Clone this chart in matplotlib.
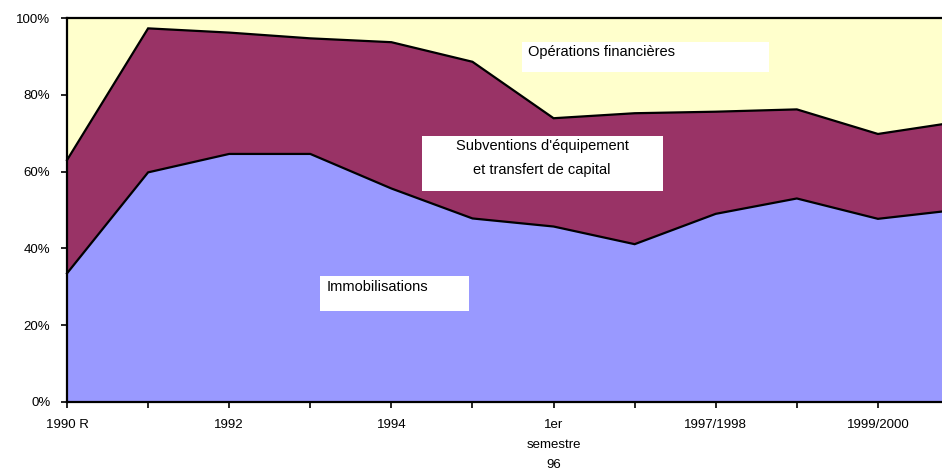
import numpy as np
import matplotlib.pyplot as plt
from matplotlib.patches import Rectangle

plt.rcParams['font.family'] = ['Liberation Sans', 'DejaVu Sans']

# shares in %
tick_labels = ['1990 R', '', '1992', '', '1994', '', '1er\nsemestre\n96',
               '', '1997/1998', '', '1999/2000', '']
immobilisations = [33.5, 59.8, 64.6, 64.6, 55.6, 47.8, 45.7, 41.1, 49.0, 53.0, 47.7, 50.1]
subventions = [29.5, 37.5, 31.6, 30.1, 38.1, 40.8, 28.2, 34.1, 26.6, 23.2, 22.1, 22.9]
operations = [37.0, 2.7, 3.8, 5.3, 6.3, 11.4, 26.1, 24.8, 24.4, 23.8, 30.2, 27.0]

colors = ['#9999FF', '#993366', '#FFFFCC']

W, H = 942, 469
fig = plt.figure(figsize=(W / 100, H / 100), dpi=100)
ax = fig.add_axes([67 / W, 1 - 402 / H, 1 - 67 / W, (402 - 18) / H])

x = np.arange(len(tick_labels))
ax.stackplot(x, immobilisations, subventions, operations, colors=colors, linewidth=0)

lower = np.array(immobilisations)
upper = lower + np.array(subventions)
top = upper + np.array(operations)
for y in (lower, upper, top):
    ax.plot(x, y, color='black', linewidth=1.6, solid_joinstyle='miter', clip_on=False)

ax.set_xlim(0, 10.79)
ax.set_ylim(0, 100)
ax.set_yticks([0, 20, 40, 60, 80, 100])
ax.set_yticklabels([f'{v}%' for v in [0, 20, 40, 60, 80, 100]])
ax.set_xticks(x[:11])
ax.set_xticklabels(tick_labels[:11], linespacing=1.9, va='top')

for side in ('top', 'right'):
    ax.spines[side].set_visible(False)
for side in ('left', 'bottom'):
    ax.spines[side].set_linewidth(1.6)
    ax.spines[side].set_zorder(5)
ax.tick_params(axis='both', direction='out', length=4, width=1.2, labelsize=9.5, colors='black')
ax.tick_params(axis='x', pad=8)
ax.tick_params(axis='y', pad=8)


def px_box(x0, y0, x1, y1):
    fig.add_artist(Rectangle((x0 / W, 1 - y1 / H), (x1 - x0) / W, (y1 - y0) / H,
                             transform=fig.transFigure, facecolor='white',
                             edgecolor='none', zorder=3))


def px_text(px, py, s, **kw):
    fig.text(px / W, 1 - py / H, s, fontsize=10.5, zorder=4, **kw)


px_box(522, 42, 769, 72)
px_text(528, 52, 'Opérations financières', ha='left', va='center')

px_box(422, 136, 663, 191)
px_text(542, 146, "Subventions d'équipement", ha='center', va='center')
px_text(542, 170, 'et transfert de capital', ha='center', va='center')

px_box(320, 276, 469, 311)
px_text(327, 287, 'Immobilisations', ha='left', va='center')

fig.savefig('out.png', dpi=100)
